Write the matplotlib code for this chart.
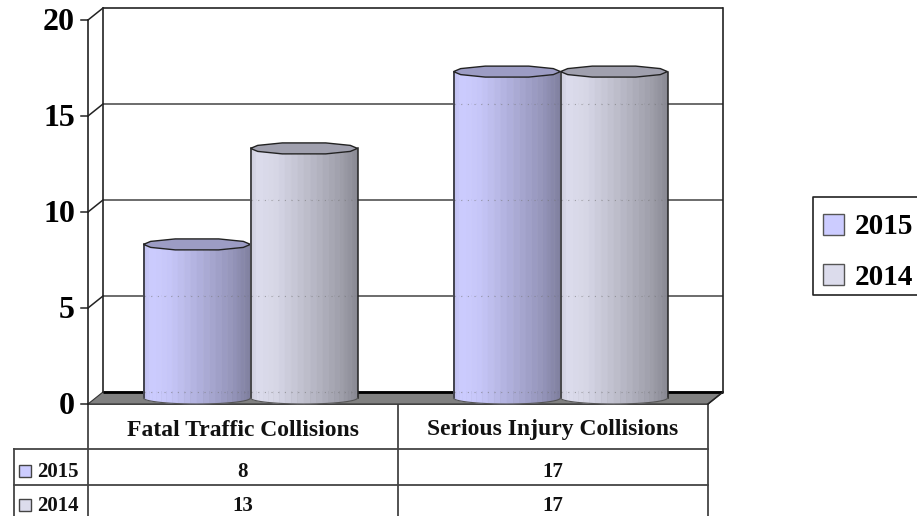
import numpy as np
import matplotlib
matplotlib.use('Agg')
import matplotlib.pyplot as plt
from matplotlib.patches import Polygon, Rectangle
from matplotlib.transforms import Affine2D

categories = ['Fatal Traffic Collisions', 'Serious Injury Collisions']
series_names = ['2015', '2014']
values_2015 = [8, 17]
values_2014 = [13, 17]
y_ticks = [0, 5, 10, 15, 20]

COLORS = {'2015': '#ccccff', '2014': '#dcdcec'}
TOP_COLORS = {'2015': '#9c9cc4', '2014': '#a0a0ae'}
SERIF = 'Liberation Serif'
W, H = 917, 516
BAR_W = 107 / 310
# Half height of the top ellipse, in value units (1 value = 19.2 px)
CAP_H = 6 / 19.2

plt.rcParams['font.family'] = SERIF
plt.rcParams['font.weight'] = 'bold'

fig = plt.figure(figsize=(W / 100, H / 100), dpi=100)

# Pixel axes for the table and the legend
ax_px = fig.add_axes([0, 0, 1, 1])
ax_px.set_xlim(0, W)
ax_px.set_ylim(H, 0)
ax_px.axis('off')

# Value axes, this is the middle plane of the 3D box
ax = fig.add_axes([95.5 / W, (H - 398) / H, 620 / W, 384 / H])
ax.set_xlim(-0.5, 1.5)
ax.set_ylim(0, 20)
ax.axis('off')
front = ax.transData + Affine2D().translate(-7.5, -6)
back = ax.transData + Affine2D().translate(7.5, 6)


def to_plane(trans, x, y):
    """Turn a data point of a plane into display coordinates"""
    return trans.transform((x, y))


def slant(x, y, color, lw):
    """Draw a line from the front plane to the back plane"""
    p0, p1 = to_plane(front, x, y), to_plane(back, x, y)
    ax.plot([p0[0], p1[0]], [p0[1], p1[1]], color=color, lw=lw,
            transform=None, clip_on=False, zorder=2)


# Floor
floor = [to_plane(front, -0.5, 0), to_plane(back, -0.5, 0),
         to_plane(back, 1.5, 0), to_plane(front, 1.5, 0)]
ax.add_patch(Polygon(floor, closed=True, facecolor='#808080',
                     edgecolor='#333333', lw=0.8, transform=None,
                     clip_on=False, zorder=1))

# Walls and grid
for v in y_ticks[1:]:
    color = '#111111' if v == 20 else '#444444'
    ax.plot([-0.5, 1.5], [v, v], color=color, lw=1.1, transform=back,
            clip_on=False, zorder=2, solid_capstyle='butt')
    slant(-0.5, v, '#222222', 1.1)
ax.plot([-0.5, 1.5], [0, 0], color='black', lw=2.0, transform=back,
        clip_on=False, zorder=2, solid_capstyle='butt')
for trans, x in [(back, -0.5), (back, 1.5), (front, -0.5)]:
    ax.plot([x, x], [0, 20], color='#222222', lw=1.2, transform=trans,
            clip_on=False, zorder=2)
slant(1.5, 0, '#222222', 1.1)

# Y ticks
tick_len = 7 / 310
for v in y_ticks:
    ax.plot([-0.5 - tick_len, -0.5], [v, v], color='#222222', lw=1.1,
            transform=front, clip_on=False, zorder=2)
    p = to_plane(front, -0.5, v)
    fig.text((p[0] - 13) / W, (p[1] - 3) / H, str(v), ha='right', va='center',
             fontsize=23, color='black')


def shade(t):
    """Brightness of a cylinder strip, t runs 0 to 1 from left to right"""
    return np.interp(t, [0, 0.08, 0.25, 0.55, 0.85, 1],
                     [0.93, 1.0, 0.97, 0.85, 0.72, 0.62])


def draw_cylinder(xc, value, name, z):
    """Draw one faceted cylinder from the floor up to value"""
    half = BAR_W / 2
    base = np.array(matplotlib.colors.to_rgb(COLORS[name]))
    n = 26
    theta = np.linspace(np.pi, 0, n + 1)
    xs = xc + half * np.cos(theta)
    low = -CAP_H * np.sin(theta)
    for i in range(n):
        t = (xs[i] + xs[i + 1] - 2 * xc + 2 * half) / (4 * half)
        col = base * shade(t)
        poly = [(xs[i], value + low[i]), (xs[i + 1], value + low[i + 1]),
                (xs[i + 1], low[i + 1]), (xs[i], low[i])]
        ax.add_patch(Polygon(poly, closed=True, facecolor=col, edgecolor=col,
                             lw=0.4, clip_on=False, zorder=z))
    # Faint grid showing through the body, on the back wall height
    for v in y_ticks[:-1]:
        if v < value:
            ax.plot([xc - half, xc + half], [v + 6 / 19.2, v + 6 / 19.2],
                    color='#777777', lw=0.8, ls=(0, (1, 5)), alpha=0.6,
                    clip_on=False, zorder=z + 0.1)
    # Sides and bottom of the body
    ax.plot([xs[0], xs[0]], [0, value], color='#222222', lw=1.1,
            clip_on=False, zorder=z + 0.2)
    ax.plot([xs[-1], xs[-1]], [0, value], color='#222222', lw=1.1,
            clip_on=False, zorder=z + 0.2)
    ax.plot(xs, low, color='#555555', lw=0.8, clip_on=False, zorder=z + 0.2)
    # Top cap, a coarse polygon like the original
    cap_deg = np.array([0, 30, 66, 114, 150, 180, 210, 246, 294, 330])
    cap_t = np.deg2rad(cap_deg)
    cap = np.column_stack([xc + half * np.cos(cap_t),
                           value + CAP_H * np.sin(cap_t)])
    ax.add_patch(Polygon(cap, closed=True, facecolor=TOP_COLORS[name],
                         edgecolor='#222222', lw=1.0, clip_on=False,
                         zorder=z + 0.3))


for i in range(len(categories)):
    draw_cylinder(i - BAR_W / 2, values_2015[i], '2015', 3 + i)
    draw_cylinder(i + BAR_W / 2, values_2014[i], '2014', 3.5 + i)

# Data table
line = {'color': '#444444', 'lw': 1.3}
for x in [88, 398, 708]:
    ax_px.plot([x, x], [404, H], **line)
ax_px.plot([88, 708], [404, 404], **line)
ax_px.plot([14, 708], [449, 449], **line)
ax_px.plot([14, 708], [485, 485], **line)
ax_px.plot([14, 14], [449, H], **line)

col_x = [243, 553]
for x, label in zip(col_x, categories):
    ax_px.text(x, 430, label, ha='center', va='center', fontsize=17,
               color='#111111')
rows = [(471, values_2015), (505, values_2014)]
for name, (y, vals) in zip(series_names, rows):
    ax_px.add_patch(Rectangle((19, y - 6), 12, 12, facecolor=COLORS[name],
                              edgecolor='#444444', lw=1))
    ax_px.text(37, y + 1, name, ha='left', va='center', fontsize=15,
               color='#111111')
    for x, v in zip(col_x, vals):
        ax_px.text(x, y + 1, str(v), ha='center', va='center', fontsize=15,
                   color='#111111')

# Legend, the right side runs off the picture
ax_px.plot([W, 813, 813, W], [197, 197, 295, 295], color='#222222', lw=1.2)
for name, y in zip(series_names, [224, 274.5]):
    ax_px.add_patch(Rectangle((823, y - 10.5), 21, 21, facecolor=COLORS[name],
                              edgecolor='#555555', lw=1))
    ax_px.text(855, y + 3, name, ha='left', va='center', fontsize=21,
               color='black')

fig.savefig('out.png', dpi=100)
